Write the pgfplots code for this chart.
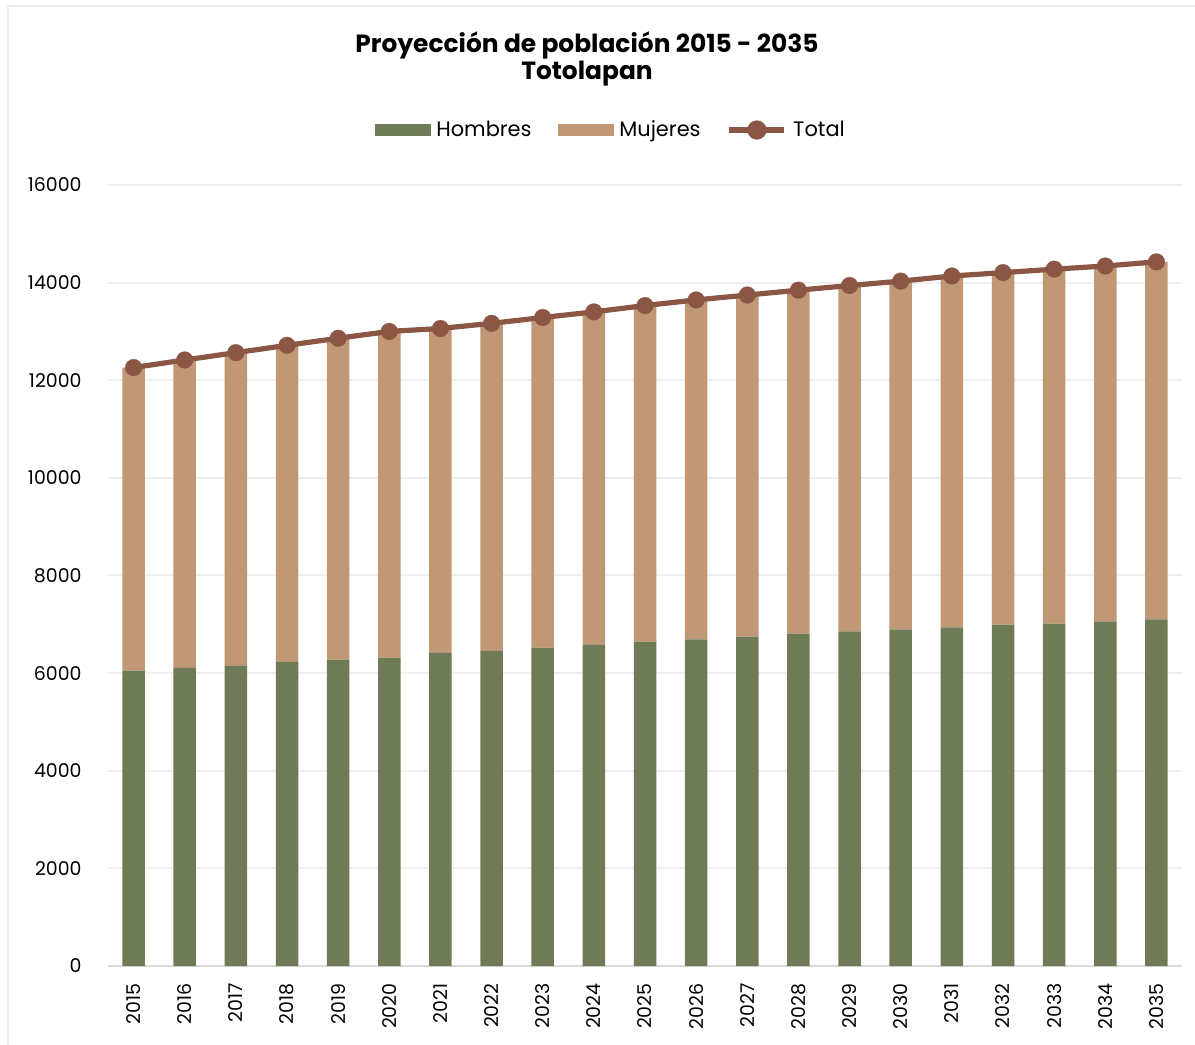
\documentclass[border=0pt]{standalone}
\usepackage{pgfplots}
\pgfplotsset{compat=1.18}
\usepackage{pgfplotstable}
\usepackage{fontspec}
\setmainfont{Poppins}
\definecolor{hcol}{HTML}{6E7B56}
\definecolor{mcol}{HTML}{C19875}
\definecolor{tcol}{HTML}{8B5644}
\definecolor{gridgray}{HTML}{EFEFEF}
\definecolor{axisgray}{HTML}{D9D9D9}
\definecolor{framegray}{HTML}{EFEFEF}

\pgfplotstableread{
x hombres mujeres total
0  6050 6210 12260
1  6110 6305 12415
2  6150 6415 12565
3  6230 6485 12715
4  6275 6585 12860
5  6315 6685 13000
6  6415 6645 13060
7  6455 6710 13165
8  6520 6765 13285
9  6580 6820 13400
10 6645 6885 13530
11 6690 6955 13645
12 6750 6995 13745
13 6810 7035 13845
14 6855 7085 13940
15 6895 7135 14030
16 6935 7200 14135
17 6995 7210 14205
18 7015 7260 14275
19 7060 7280 14340
20 7100 7325 14425
}\datatable

\begin{document}
\begin{tikzpicture}
\useasboundingbox (0,0) rectangle (597.5bp,522.5bp);
\draw[framegray, line width=1bp] (4bp,0) -- (4bp,519.5bp) -- (597.5bp,519.5bp);
\node[font=\bfseries\fontsize{12.5}{14}\selectfont] at (293.5bp,500bp) {Proyección de población 2015 - 2035};
\node[font=\bfseries\fontsize{12.5}{14}\selectfont] at (293.5bp,485.5bp) {Totolapan};

\begin{axis}[
  at={(54bp,39.5bp)}, anchor=south west,
  scale only axis, width=537bp, height=390.5bp,
  xmin=-0.5, xmax=20.5, ymin=0, ymax=16000,
  ybar stacked, bar width=11.25bp,
  xtick={0,...,20},
  xticklabels={2015,2016,2017,2018,2019,2020,2021,2022,2023,2024,2025,2026,2027,2028,2029,2030,2031,2032,2033,2034,2035},
  ytick={0,2000,...,16000},
  ymajorgrids, grid style={gridgray, line width=1bp},
  axis x line*=bottom, axis y line*=left,
  x axis line style={axisgray, line width=1bp, -},
  y axis line style={draw=none},
  major tick length=0pt,
  xticklabel style={rotate=90, anchor=east, inner sep=0pt, font=\fontsize{9.5}{10}\selectfont},
  xticklabel shift=8.5bp,
  yticklabel style={anchor=east, inner sep=0pt, font=\fontsize{9.5}{11}\selectfont,
    /pgf/number format/assume math mode=true, /pgf/number format/1000 sep={}},
  yticklabel shift=13bp,
  scaled y ticks=false,
  clip=false,
]
\addplot[fill=hcol, draw=none] table[x=x, y=hombres] {\datatable};
\addplot[fill=mcol, draw=none] table[x=x, y=mujeres] {\datatable};
\end{axis}

\begin{axis}[
  at={(54bp,39.5bp)}, anchor=south west,
  scale only axis, width=537bp, height=390.5bp,
  xmin=-0.5, xmax=20.5, ymin=0, ymax=16000,
  hide axis, clip=false,
  legend columns=3,
  legend style={draw=none, fill=none, at={(0.469,1.0704)}, anchor=center,
    font=\fontsize{10.5}{12}\selectfont,
    /tikz/every even column/.append style={column sep=11bp},
    /tikz/every odd column/.append style={column sep=1bp}},
  legend cell align=left,
]
\addlegendimage{legend image code/.code={\fill[hcol] (0bp,-2.75bp) rectangle (27.5bp,2.75bp);}}
\addlegendentry{Hombres}
\addlegendimage{legend image code/.code={\fill[mcol] (0bp,-2.75bp) rectangle (27.5bp,2.75bp);}}
\addlegendentry{Mujeres}
\addplot[tcol, line width=2.6bp, mark=*, mark size=4.2bp, mark options={fill=tcol, draw=tcol, line width=0.1bp},
  legend image code/.code={\draw[tcol, line width=2.8bp] (0bp,0bp) -- (27.5bp,0bp); \fill[tcol] (13.75bp,0bp) circle (3.5bp);}]
  table[x=x, y=total] {\datatable};
\addlegendentry{Total}
\end{axis}
\end{tikzpicture}
\end{document}
